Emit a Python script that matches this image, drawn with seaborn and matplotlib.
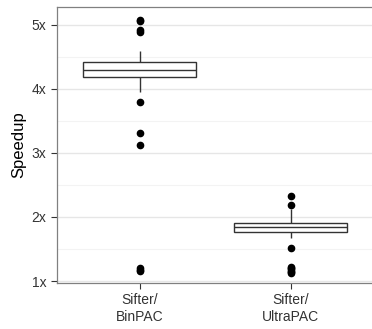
import numpy as np
import pandas as pd
import matplotlib
matplotlib.use("Agg")
import matplotlib.pyplot as plt
import seaborn as sns
from matplotlib.ticker import MultipleLocator, FuncFormatter

# Speedup samples (outliers, whiskers, quartiles)
binpac = [1.15, 1.17, 1.20, 3.12, 3.31, 3.80, 3.95, 4.05, 4.10, 4.15,
          4.18, 4.19, 4.21, 4.22, 4.24, 4.25, 4.26, 4.27, 4.28, 4.29,
          4.30, 4.31, 4.32, 4.33, 4.34, 4.36, 4.37, 4.38, 4.40, 4.41,
          4.42, 4.45, 4.48, 4.50, 4.53, 4.56, 4.59, 4.89, 4.92, 5.06, 5.08]
ultrapac = [1.12, 1.14, 1.16, 1.18, 1.20, 1.22, 1.52, 1.67, 1.70, 1.73,
            1.76, 1.77, 1.78, 1.79, 1.80, 1.81, 1.82, 1.83, 1.83, 1.84,
            1.84, 1.85, 1.86, 1.86, 1.87, 1.88, 1.88, 1.89, 1.90, 1.90,
            1.91, 1.93, 1.95, 1.98, 2.00, 2.03, 2.06, 2.10, 2.13, 2.19, 2.32]
labels = ["Sifter/\nBinPAC", "Sifter/\nUltraPAC"]

df = pd.DataFrame({
    "pair": [labels[0]] * len(binpac) + [labels[1]] * len(ultrapac),
    "speedup": binpac + ultrapac,
})

sns.set_style("white")
plt.rcParams["font.family"] = ["Liberation Sans", "DejaVu Sans"]

fig = plt.figure(figsize=(3.72, 3.29), dpi=100)
ax = fig.add_axes([0.153, 0.140, 0.847, 0.839])

# grid like ggplot theme_bw
ax.set_axisbelow(True)
ax.yaxis.set_major_locator(MultipleLocator(1))
ax.yaxis.set_minor_locator(MultipleLocator(0.5))
ax.grid(True, which="major", color="#E6E6E6", linewidth=1.0)
ax.grid(True, which="minor", axis="y", color="#F3F3F3", linewidth=0.8)

sns.boxplot(data=df, x="pair", y="speedup", order=labels, ax=ax,
            width=0.75, color="white", linecolor="#333333", linewidth=1.0,
            showcaps=False,
            flierprops=dict(marker="o", markerfacecolor="black",
                            markeredgecolor="black", markersize=4.5))

ax.set_xlim(-0.55, 1.54)
ax.set_ylim(0.97, 5.28)
ax.yaxis.set_major_formatter(FuncFormatter(lambda v, p: f"{v:.0f}x"))
ax.set_xlabel("")
ax.set_ylabel("Speedup", fontsize=12, color="black", labelpad=4)

for side in ["left", "bottom", "top"]:
    ax.spines[side].set_color("#808080")
    ax.spines[side].set_linewidth(0.9)
ax.spines["right"].set_visible(False)
ax.tick_params(axis="both", which="major", direction="out", length=4,
               color="#333333", labelsize=10, labelcolor="#333333",
               left=True, bottom=True)
ax.tick_params(axis="y", which="minor", length=0)

fig.savefig("out.png", dpi=100)
